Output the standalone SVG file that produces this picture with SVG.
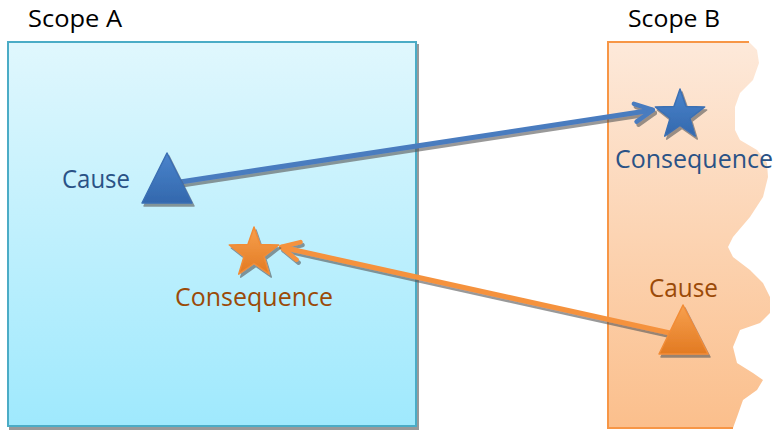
<svg xmlns="http://www.w3.org/2000/svg" width="774" height="430" viewBox="0 0 774 430">
<defs>
<linearGradient id="gA" x1="0" y1="0" x2="0" y2="1"><stop offset="0" stop-color="#e0f7fd"/><stop offset="1" stop-color="#9fe9fd"/></linearGradient>
<linearGradient id="gB" x1="0" y1="0" x2="0" y2="1"><stop offset="0" stop-color="#fde9da"/><stop offset="1" stop-color="#fbbf8c"/></linearGradient>
<linearGradient id="gBlue" x1="0" y1="0" x2="0" y2="1"><stop offset="0" stop-color="#4a84cc"/><stop offset="1" stop-color="#3368ad"/></linearGradient>
<linearGradient id="gOr" x1="0" y1="0" x2="0" y2="1"><stop offset="0" stop-color="#f7a04e"/><stop offset="1" stop-color="#e27a22"/></linearGradient>
<filter id="sh" x="-20%" y="-20%" width="140%" height="140%"><feDropShadow dx="2" dy="3" stdDeviation="0.7" flood-color="#555" flood-opacity="0.6"/></filter>
<marker id="mBlue" viewBox="-22 -12 24 24" markerWidth="24" markerHeight="24" refX="0" refY="0" orient="auto" markerUnits="userSpaceOnUse"><path d="M-18,-9 L0,0 L-18,9" fill="none" stroke="#4a7bbf" stroke-width="4.5" stroke-linecap="round" stroke-linejoin="round"/></marker>
<marker id="mOr" viewBox="-22 -12 24 24" markerWidth="24" markerHeight="24" refX="0" refY="0" orient="auto" markerUnits="userSpaceOnUse"><path d="M-18,-9 L0,0 L-18,9" fill="none" stroke="#f5923e" stroke-width="4.5" stroke-linecap="round" stroke-linejoin="round"/></marker>
</defs>
<style>
.t{font-family:"Open Sans","Liberation Sans",sans-serif;}
.scope{font-size:24px;fill:#000;}
.lb{font-size:25px;fill:#2a5286;}
.lo{font-size:25px;fill:#9b4a08;}
</style>
<g id="scopeA">
<rect x="8" y="42" width="408" height="384" fill="url(#gA)" stroke="#4bacc6" stroke-width="2" filter="url(#sh)"/>
<text class="t scope" x="28" y="27" textLength="94" lengthAdjust="spacingAndGlyphs">Scope A</text>
</g>
<g id="scopeB">
<path d="M608,42 L749,42 L757,50 L759,63 L753,80 L740,93 L735,107 L735,130 L740,140 L757,150 L767,163 L768,177 L763,197 L750,217 L733,237 L728,247 L733,257 L750,270 L763,283 L770,297 L770,313 L760,323 L740,330 L733,347 L737,363 L753,373 L763,380 L757,390 L743,400 L737,417 L733,428 L608,428 Z" fill="url(#gB)"/>
<path d="M749,42 L608,42 L608,428 L733,428" fill="none" stroke="#f79646" stroke-width="2"/>
<text class="t scope" x="628" y="27" textLength="92" lengthAdjust="spacingAndGlyphs">Scope B</text>
</g>
<g id="connectors">
<g filter="url(#sh)">
<line x1="180" y1="182" x2="653" y2="110" stroke="#4a7bbf" stroke-width="5" marker-end="url(#mBlue)"/>
<line x1="670" y1="333" x2="281" y2="247" stroke="#f5923e" stroke-width="5" marker-end="url(#mOr)"/>
</g>
</g>
<g id="causeA">
<polygon points="167,153 192,203 142,203" fill="url(#gBlue)" stroke="#3a6fb3" stroke-width="1.5" stroke-linejoin="round" filter="url(#sh)"/>
<text class="t lb" x="62" y="188" textLength="68" lengthAdjust="spacingAndGlyphs">Cause</text>
</g>
<g id="consequenceA">
<polygon points="254,227 260.1,244.6 278.7,245 263.9,256.3 269.3,274.1 254,263.5 238.7,274.1 244.1,256.3 229.3,245 247.9,244.6" fill="url(#gOr)" stroke="#f28c36" stroke-width="1.5" stroke-linejoin="round" filter="url(#sh)"/>
<text class="t lo" x="175" y="306" textLength="158" lengthAdjust="spacingAndGlyphs">Consequence</text>
</g>
<g id="consequenceB">
<polygon points="680,89 686.1,106.6 704.7,107 689.9,118.3 695.3,136.1 680,125.5 664.7,136.1 670.1,118.3 655.3,107 673.9,106.6" fill="url(#gBlue)" stroke="#3a6fb3" stroke-width="1.5" stroke-linejoin="round" filter="url(#sh)"/>
<text class="t lb" x="615" y="168" textLength="158" lengthAdjust="spacingAndGlyphs">Consequence</text>
</g>
<g id="causeB">
<polygon points="683,305 708,354 659,354" fill="url(#gOr)" stroke="#f28c36" stroke-width="1.5" stroke-linejoin="round" filter="url(#sh)"/>
<text class="t lo" x="649" y="297" textLength="69" lengthAdjust="spacingAndGlyphs">Cause</text>
</g>
</svg>
